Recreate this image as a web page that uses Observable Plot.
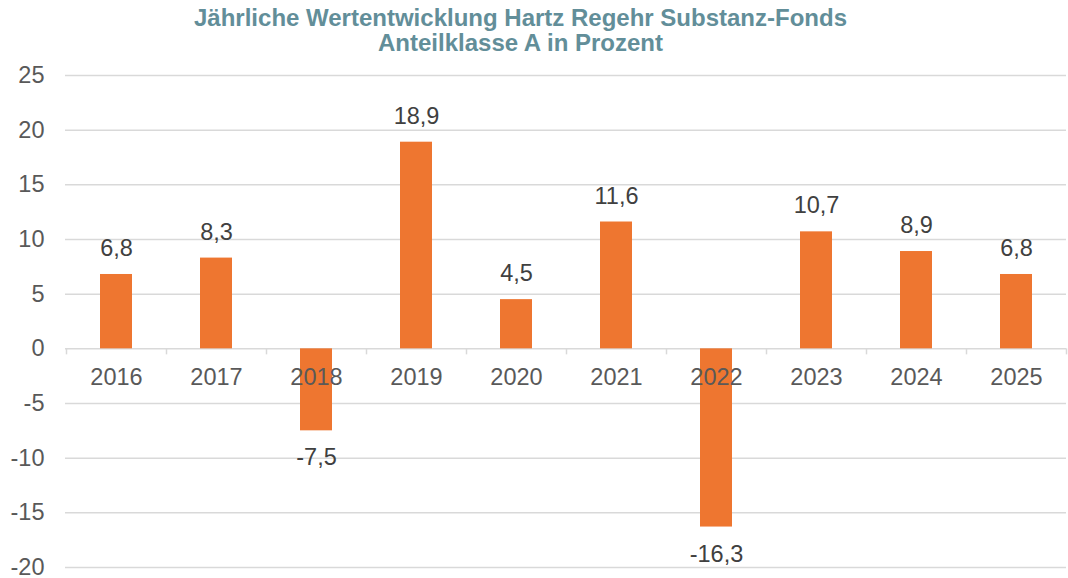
<!DOCTYPE html>
<html>
<head>
<meta charset="utf-8">
<script src="https://cdn.jsdelivr.net/npm/d3@7"></script>
<script src="https://cdn.jsdelivr.net/npm/@observablehq/plot@0.6"></script>
<style>
  html, body { margin: 0; padding: 0; background: #fff; }
  #title {
    width: 1041px; height: 60px; box-sizing: border-box; padding-top: 5px;
    text-align: center; font-family: "Liberation Sans", Arial, sans-serif;
    font-weight: bold; font-size: 24px; line-height: 25px; color: #628E99;
    white-space: nowrap;
  }
  #chart svg { display: block; }
</style>
</head>
<body>
<div id="title">Jährliche Wertentwicklung Hartz Regehr Substanz-Fonds<br>Anteilklasse A in Prozent</div>
<div id="chart"></div>
<script>
const years = ["2016","2017","2018","2019","2020","2021","2022","2023","2024","2025"];
const values = [6.8, 8.3, -7.5, 18.9, 4.5, 11.6, -16.3, 10.7, 8.9, 6.8];
const yTicks = [-20, -15, -10, -5, 0, 5, 10, 15, 20, 25];

const data = years.map((y, i) => ({year: y, value: values[i]}));
const fmt = v => String(v).replace(".", ",");
const font = "Liberation Sans, Arial, sans-serif";

const chart = Plot.plot({
  width: 1068,
  height: 518,
  marginLeft: 65,
  marginRight: 2,
  marginTop: 15,
  marginBottom: 11,
  style: {fontFamily: font, fontSize: "23.5px", color: "#595959", background: "#fff"},
  x: {domain: years, paddingInner: 0.68, paddingOuter: 0.34, axis: null},
  y: {domain: [-20, 25], ticks: yTicks, label: null, tickSize: 0, tickPadding: 21, tickFormat: d => String(d)},
  marks: [
    Plot.ruleY(yTicks, {stroke: "#D9D9D9", strokeWidth: 1.5}),
    Plot.ruleX(years, {x: d => d, dx: -50, y1: 0, y2: -0.55, stroke: "#D9D9D9", strokeWidth: 1.5}),
    Plot.ruleX([years[years.length - 1]], {x: d => d, dx: 50, y1: 0, y2: -0.55, stroke: "#D9D9D9", strokeWidth: 1.5}),
    Plot.barY(data, {x: "year", y: "value", fill: "#EE7630"}),
    Plot.text(data, {x: "year", y: 0, text: "year", dy: 29, fill: "#595959", fontSize: 23.5}),
    Plot.text(data, {x: "year", y: "value", text: d => fmt(d.value), fill: "#404040", fontSize: 23.5,
      filter: d => d.value >= 0, dy: -26}),
    Plot.text(data, {x: "year", y: "value", text: d => fmt(d.value), fill: "#404040", fontSize: 23.5,
      filter: d => d.value < 0, dy: 27})
  ]
});
document.getElementById("chart").appendChild(chart);
</script>
</body>
</html>
